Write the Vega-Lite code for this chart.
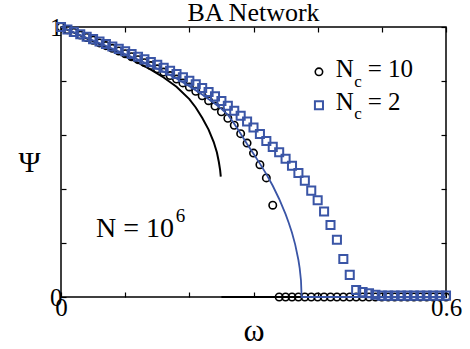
{
  "$schema": "https://vega.github.io/schema/vega-lite/v6.json",
  "width": 385,
  "height": 270,
  "autosize": {"type": "none"},
  "padding": {"left": 61, "top": 27, "right": 24, "bottom": 52},
  "background": "white",
  "title": {"text": "BA Network", "font": "Liberation Serif, Times New Roman, serif", "fontSize": 26, "fontWeight": "normal", "color": "black", "offset": -11, "anchor": "middle"},
  "config": {
    "view": {"stroke": "black", "strokeWidth": 1.5},
    "axis": {"labelFont": "Liberation Serif, Times New Roman, serif", "titleFont": "Liberation Serif, Times New Roman, serif", "labelColor": "black", "titleColor": "black", "tickColor": "black", "domain": false, "grid": false, "tickWidth": 1.2, "labelOverlap": false, "labelFlush": false, "titleFontWeight": "normal"}
  },
  "datasets": {
    "nc10": [
      {"w": 0.00, "p": 1.000}, {"w": 0.01, "p": 0.990}, {"w": 0.02, "p": 0.980}, {"w": 0.03, "p": 0.970},
      {"w": 0.04, "p": 0.961}, {"w": 0.05, "p": 0.951}, {"w": 0.06, "p": 0.941}, {"w": 0.07, "p": 0.931},
      {"w": 0.08, "p": 0.921}, {"w": 0.09, "p": 0.911}, {"w": 0.10, "p": 0.901}, {"w": 0.11, "p": 0.890},
      {"w": 0.12, "p": 0.879}, {"w": 0.13, "p": 0.868}, {"w": 0.14, "p": 0.857}, {"w": 0.15, "p": 0.845},
      {"w": 0.16, "p": 0.833}, {"w": 0.17, "p": 0.820}, {"w": 0.18, "p": 0.807}, {"w": 0.19, "p": 0.793},
      {"w": 0.20, "p": 0.778}, {"w": 0.21, "p": 0.762}, {"w": 0.22, "p": 0.745}, {"w": 0.23, "p": 0.727},
      {"w": 0.24, "p": 0.707}, {"w": 0.25, "p": 0.686}, {"w": 0.26, "p": 0.662}, {"w": 0.27, "p": 0.636},
      {"w": 0.28, "p": 0.605}, {"w": 0.29, "p": 0.570}, {"w": 0.30, "p": 0.533}, {"w": 0.31, "p": 0.490},
      {"w": 0.32, "p": 0.441}, {"w": 0.33, "p": 0.340}, {"w": 0.34, "p": 0}, {"w": 0.35, "p": 0},
      {"w": 0.36, "p": 0}, {"w": 0.37, "p": 0}, {"w": 0.38, "p": 0}, {"w": 0.39, "p": 0},
      {"w": 0.40, "p": 0}, {"w": 0.41, "p": 0}, {"w": 0.42, "p": 0}, {"w": 0.43, "p": 0},
      {"w": 0.44, "p": 0}, {"w": 0.45, "p": 0}, {"w": 0.46, "p": 0}, {"w": 0.47, "p": 0},
      {"w": 0.48, "p": 0}, {"w": 0.49, "p": 0}, {"w": 0.50, "p": 0}, {"w": 0.51, "p": 0},
      {"w": 0.52, "p": 0}, {"w": 0.53, "p": 0}, {"w": 0.54, "p": 0}, {"w": 0.55, "p": 0},
      {"w": 0.56, "p": 0}, {"w": 0.57, "p": 0}, {"w": 0.58, "p": 0}, {"w": 0.59, "p": 0},
      {"w": 0.60, "p": 0}
    ],
    "nc2": [
      {"w": 0.00, "p": 1.000}, {"w": 0.01, "p": 0.991}, {"w": 0.02, "p": 0.982}, {"w": 0.03, "p": 0.973},
      {"w": 0.04, "p": 0.964}, {"w": 0.05, "p": 0.955}, {"w": 0.06, "p": 0.946}, {"w": 0.07, "p": 0.937},
      {"w": 0.08, "p": 0.928}, {"w": 0.09, "p": 0.919}, {"w": 0.10, "p": 0.910}, {"w": 0.11, "p": 0.900},
      {"w": 0.12, "p": 0.890}, {"w": 0.13, "p": 0.880}, {"w": 0.14, "p": 0.870}, {"w": 0.15, "p": 0.860},
      {"w": 0.16, "p": 0.849}, {"w": 0.17, "p": 0.838}, {"w": 0.18, "p": 0.826}, {"w": 0.19, "p": 0.814},
      {"w": 0.20, "p": 0.801}, {"w": 0.21, "p": 0.788}, {"w": 0.22, "p": 0.774}, {"w": 0.23, "p": 0.759},
      {"w": 0.24, "p": 0.743}, {"w": 0.25, "p": 0.726}, {"w": 0.26, "p": 0.708}, {"w": 0.27, "p": 0.690},
      {"w": 0.28, "p": 0.671}, {"w": 0.29, "p": 0.650}, {"w": 0.30, "p": 0.628}, {"w": 0.31, "p": 0.604},
      {"w": 0.32, "p": 0.578}, {"w": 0.33, "p": 0.556}, {"w": 0.34, "p": 0.536}, {"w": 0.35, "p": 0.512},
      {"w": 0.36, "p": 0.486}, {"w": 0.37, "p": 0.459}, {"w": 0.38, "p": 0.431}, {"w": 0.39, "p": 0.394},
      {"w": 0.40, "p": 0.358}, {"w": 0.41, "p": 0.317}, {"w": 0.42, "p": 0.267}, {"w": 0.43, "p": 0.212},
      {"w": 0.44, "p": 0.141}, {"w": 0.45, "p": 0.082}, {"w": 0.46, "p": 0.026}, {"w": 0.47, "p": 0.018},
      {"w": 0.48, "p": 0.014}, {"w": 0.49, "p": 0.008}, {"w": 0.50, "p": 0.005}, {"w": 0.51, "p": 0.005},
      {"w": 0.52, "p": 0.005}, {"w": 0.53, "p": 0.005}, {"w": 0.54, "p": 0.005}, {"w": 0.55, "p": 0.005},
      {"w": 0.56, "p": 0.005}, {"w": 0.57, "p": 0.005}, {"w": 0.58, "p": 0.005}, {"w": 0.59, "p": 0.005},
      {"w": 0.60, "p": 0.005}
    ],
    "blackLine": [
      {"seg": "a", "i": 0, "w": 0.000, "p": 1.000}, {"seg": "a", "i": 1, "w": 0.020, "p": 0.979},
      {"seg": "a", "i": 2, "w": 0.040, "p": 0.958}, {"seg": "a", "i": 3, "w": 0.060, "p": 0.937},
      {"seg": "a", "i": 4, "w": 0.080, "p": 0.915}, {"seg": "a", "i": 5, "w": 0.100, "p": 0.892},
      {"seg": "a", "i": 6, "w": 0.120, "p": 0.868}, {"seg": "a", "i": 7, "w": 0.140, "p": 0.842},
      {"seg": "a", "i": 8, "w": 0.160, "p": 0.813}, {"seg": "a", "i": 9, "w": 0.180, "p": 0.779},
      {"seg": "a", "i": 10, "w": 0.200, "p": 0.733}, {"seg": "a", "i": 11, "w": 0.210, "p": 0.702},
      {"seg": "a", "i": 12, "w": 0.220, "p": 0.664}, {"seg": "a", "i": 13, "w": 0.230, "p": 0.620},
      {"seg": "a", "i": 14, "w": 0.238, "p": 0.574}, {"seg": "a", "i": 15, "w": 0.243, "p": 0.535},
      {"seg": "a", "i": 16, "w": 0.246, "p": 0.500}, {"seg": "a", "i": 17, "w": 0.248, "p": 0.470},
      {"seg": "a", "i": 18, "w": 0.249, "p": 0.446},
      {"seg": "b", "i": 0, "w": 0.250, "p": 0.0}, {"seg": "b", "i": 1, "w": 0.600, "p": 0.0}
    ],
    "blueLine": [
      {"i": 0, "w": 0.000, "p": 1.000}, {"i": 1, "w": 0.020, "p": 0.980}, {"i": 2, "w": 0.040, "p": 0.960},
      {"i": 3, "w": 0.060, "p": 0.940}, {"i": 4, "w": 0.080, "p": 0.920}, {"i": 5, "w": 0.100, "p": 0.900},
      {"i": 6, "w": 0.120, "p": 0.879}, {"i": 7, "w": 0.140, "p": 0.857}, {"i": 8, "w": 0.160, "p": 0.834},
      {"i": 9, "w": 0.180, "p": 0.809}, {"i": 10, "w": 0.200, "p": 0.781}, {"i": 11, "w": 0.220, "p": 0.750},
      {"i": 12, "w": 0.240, "p": 0.716}, {"i": 13, "w": 0.250, "p": 0.697}, {"i": 14, "w": 0.260, "p": 0.675},
      {"i": 15, "w": 0.270, "p": 0.642}, {"i": 16, "w": 0.280, "p": 0.605}, {"i": 17, "w": 0.290, "p": 0.567},
      {"i": 18, "w": 0.300, "p": 0.531}, {"i": 19, "w": 0.310, "p": 0.494}, {"i": 20, "w": 0.320, "p": 0.455},
      {"i": 21, "w": 0.330, "p": 0.412}, {"i": 22, "w": 0.340, "p": 0.363}, {"i": 23, "w": 0.350, "p": 0.307},
      {"i": 24, "w": 0.355, "p": 0.274}, {"i": 25, "w": 0.360, "p": 0.238}, {"i": 26, "w": 0.365, "p": 0.194},
      {"i": 27, "w": 0.370, "p": 0.137}, {"i": 28, "w": 0.372, "p": 0.106}, {"i": 29, "w": 0.374, "p": 0.061},
      {"i": 30, "w": 0.375, "p": 0.0}, {"i": 31, "w": 0.600, "p": 0.0}
    ],
    "legCircle": [{"w": 0.402, "p": 0.834}],
    "legSquare": [{"w": 0.402, "p": 0.710}],
    "bigText": [
      {"w": 0.428, "p": 0.815, "t": "N"}, {"w": 0.478, "p": 0.815, "t": "= 10"},
      {"w": 0.428, "p": 0.694, "t": "N"}, {"w": 0.478, "p": 0.694, "t": "= 2"}
    ],
    "subText": [
      {"w": 0.457, "p": 0.778, "t": "c"}, {"w": 0.457, "p": 0.660, "t": "c"}
    ],
    "nText": [{"w": 0.0545, "p": 0.224, "t": "N = 10"}],
    "supText": [{"w": 0.179, "p": 0.279, "t": "6"}]
  },
  "layer": [
    {
      "data": {"name": "blackLine"},
      "mark": {"type": "line", "color": "black", "strokeWidth": 2},
      "encoding": {
        "x": {"field": "w", "type": "quantitative", "scale": {"domain": [0, 0.6], "nice": false, "zero": false},
          "axis": {"orient": "bottom", "values": [0, 0.1, 0.2, 0.3, 0.4, 0.5, 0.6], "tickSize": -5, "format": "~g",
            "labelExpr": "(datum.value < 0.001 || datum.value > 0.599) ? datum.label : ''",
            "labelFontSize": 25, "labelPadding": 3, "labelBaseline": "top",
            "title": "ω", "titleFontSize": 32, "titleY": 43, "titleBaseline": "alphabetic"}},
        "y": {"field": "p", "type": "quantitative", "scale": {"domain": [0, 1], "nice": false, "zero": false},
          "axis": {"orient": "left", "values": [0, 0.2, 0.4, 0.6, 0.8, 1], "tickSize": -5, "format": "~g",
            "labelExpr": "(datum.value < 0.001 || datum.value > 0.999) ? datum.label : ''",
            "labelFontSize": 25, "labelPadding": 4, "labelBaseline": "middle",
            "title": "Ψ", "titleAngle": 0, "titleFontSize": 30, "titleX": -32, "titleY": 135,
            "titleAlign": "center", "titleBaseline": "middle"}},
        "detail": {"field": "seg"},
        "order": {"field": "i", "type": "quantitative"}
      }
    },
    {
      "data": {"name": "nc10"},
      "mark": {"type": "point", "shape": "circle", "filled": false, "stroke": "black", "strokeWidth": 1.6, "size": 55, "opacity": 1},
      "encoding": {
        "x": {"field": "w", "type": "quantitative",
          "axis": {"orient": "top", "values": [0, 0.1, 0.2, 0.3, 0.4, 0.5, 0.6], "tickSize": -5, "labels": false, "title": null}},
        "y": {"field": "p", "type": "quantitative",
          "axis": {"orient": "right", "values": [0, 0.2, 0.4, 0.6, 0.8, 1], "tickSize": -5, "labels": false, "title": null}}
      }
    },
    {
      "data": {"name": "nc2"},
      "mark": {"type": "point", "shape": "square", "filled": false, "stroke": "#3a55a6", "strokeWidth": 2, "size": 65, "opacity": 1},
      "encoding": {
        "x": {"field": "w", "type": "quantitative", "axis": null},
        "y": {"field": "p", "type": "quantitative", "axis": null}
      }
    },
    {
      "data": {"name": "blueLine"},
      "mark": {"type": "line", "color": "#3a55a6", "strokeWidth": 1.8},
      "encoding": {
        "x": {"field": "w", "type": "quantitative", "axis": null},
        "y": {"field": "p", "type": "quantitative", "axis": null},
        "order": {"field": "i", "type": "quantitative"}
      }
    },
    {
      "data": {"name": "legCircle"},
      "mark": {"type": "point", "shape": "circle", "filled": false, "stroke": "black", "strokeWidth": 1.6, "size": 55, "opacity": 1},
      "encoding": {
        "x": {"field": "w", "type": "quantitative", "axis": null},
        "y": {"field": "p", "type": "quantitative", "axis": null}
      }
    },
    {
      "data": {"name": "legSquare"},
      "mark": {"type": "point", "shape": "square", "filled": false, "stroke": "#3a55a6", "strokeWidth": 2, "size": 65, "opacity": 1},
      "encoding": {
        "x": {"field": "w", "type": "quantitative", "axis": null},
        "y": {"field": "p", "type": "quantitative", "axis": null}
      }
    },
    {
      "data": {"name": "bigText"},
      "mark": {"type": "text", "font": "Liberation Serif, Times New Roman, serif", "fontSize": 25, "align": "left", "baseline": "alphabetic", "color": "black"},
      "encoding": {
        "x": {"field": "w", "type": "quantitative", "axis": null},
        "y": {"field": "p", "type": "quantitative", "axis": null},
        "text": {"field": "t"}
      }
    },
    {
      "data": {"name": "subText"},
      "mark": {"type": "text", "font": "Liberation Serif, Times New Roman, serif", "fontSize": 17, "align": "left", "baseline": "alphabetic", "color": "black"},
      "encoding": {
        "x": {"field": "w", "type": "quantitative", "axis": null},
        "y": {"field": "p", "type": "quantitative", "axis": null},
        "text": {"field": "t"}
      }
    },
    {
      "data": {"name": "nText"},
      "mark": {"type": "text", "font": "Liberation Serif, Times New Roman, serif", "fontSize": 28, "align": "left", "baseline": "alphabetic", "color": "black"},
      "encoding": {
        "x": {"field": "w", "type": "quantitative", "axis": null},
        "y": {"field": "p", "type": "quantitative", "axis": null},
        "text": {"field": "t"}
      }
    },
    {
      "data": {"name": "supText"},
      "mark": {"type": "text", "font": "Liberation Serif, Times New Roman, serif", "fontSize": 19, "align": "left", "baseline": "alphabetic", "color": "black"},
      "encoding": {
        "x": {"field": "w", "type": "quantitative", "axis": null},
        "y": {"field": "p", "type": "quantitative", "axis": null},
        "text": {"field": "t"}
      }
    }
  ],
  "resolve": {"axis": {"x": "independent", "y": "independent"}}
}
